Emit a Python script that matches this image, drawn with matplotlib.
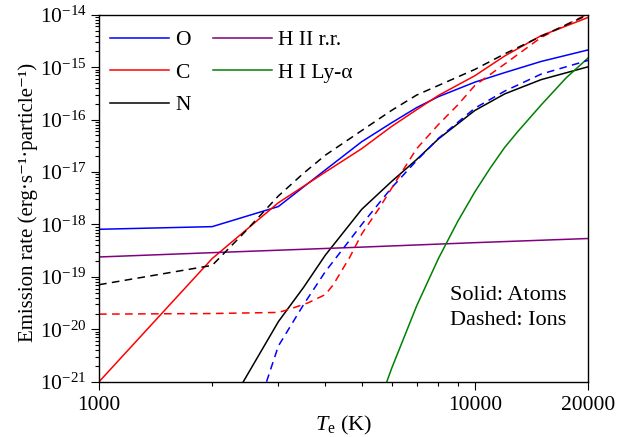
"""
Emission rate vs electron temperature for O, C, N atoms/ions and hydrogen.
"""

import matplotlib
matplotlib.use("Agg")  # headless backend
import matplotlib.pyplot as plt
from matplotlib.ticker import FixedLocator, NullFormatter, LogFormatterSciNotation

plt.rcParams["font.family"] = ["Liberation Serif", "DejaVu Serif"]
plt.rcParams["mathtext.fontset"] = "custom"
plt.rcParams["mathtext.rm"] = "Liberation Serif"
plt.rcParams["mathtext.it"] = "Liberation Serif:italic"
plt.rcParams["mathtext.bf"] = "Liberation Serif:bold"

# --- data (T in K, rate in erg s^-1 particle^-1) ---
T_o = [1000, 2000, 3000, 4000, 5000, 6000, 7000, 8000, 10000, 12000, 15000, 20000]
o_atom = [8.1e-19, 9.1e-19, 2.2e-18, 1.1e-17, 3.8e-17, 8.7e-17, 1.7e-16, 2.75e-16,
          5.2e-16, 7.9e-16, 1.29e-15, 2.14e-15]

T_c = [1000, 2000, 3000, 4000, 5000, 6000, 7000, 8000, 10000, 12000, 15000, 20000]
c_atom = [1.0e-21, 2.24e-19, 2.6e-18, 1.0e-17, 2.8e-17, 7.4e-17, 1.55e-16, 2.9e-16,
          6.9e-16, 1.64e-15, 4.0e-15, 8.9e-15]

T_n = [2420, 3000, 3500, 4000, 5000, 6000, 7000, 8000, 10000, 12000, 15000, 20000]
n_atom = [1.0e-21, 1.4e-20, 6.3e-20, 2.6e-19, 1.95e-18, 6.6e-18, 1.74e-17, 4.3e-17,
          1.5e-16, 3.1e-16, 5.8e-16, 1.02e-15]

T_o_ion = [2790, 3000, 3500, 4000, 5000, 6000, 7000, 8000, 10000, 12000, 15000, 20000]
o_ion = [1.0e-21, 4.8e-21, 2.95e-20, 1.26e-19, 1.0e-18, 5.0e-18, 1.66e-17, 4.4e-17,
         1.66e-16, 3.5e-16, 7.4e-16, 1.35e-15]

T_c_ion = [1000, 2000, 3000, 3200, 3600, 4000, 4200, 4650, 5000, 5600, 6200, 7000,
           8000, 9000, 10000, 12000, 15000, 20000]
c_ion = [1.95e-20, 2.0e-20, 2.1e-20, 2.4e-20, 3.2e-20, 4.6e-20, 7.1e-20, 2.4e-19,
         6.6e-19, 2.2e-18, 7.1e-18, 2.8e-17, 8.1e-17, 1.9e-16, 4.5e-16, 1.15e-15,
         3.7e-15, 1.05e-14]

T_n_ion = [1000, 2000, 2400, 3000, 3500, 4000, 5000, 6000, 7000, 8000, 10000, 12000,
           15000, 20000]
n_ion = [7.1e-20, 1.66e-19, 6.3e-19, 3.5e-18, 9.5e-18, 2.1e-17, 6.2e-17, 1.5e-16,
         2.95e-16, 4.5e-16, 9.1e-16, 1.8e-15, 3.9e-15, 1.0e-14]

T_hii = [1000, 2000, 5000, 10000, 20000]
hii_rr = [2.4e-19, 2.9e-19, 3.7e-19, 4.5e-19, 5.4e-19]

T_lya = [5830, 6000, 7000, 8000, 9000, 10000, 11000, 12000, 13000, 15000, 17500, 20000]
hi_lya = [1.0e-21, 1.77e-21, 2.8e-20, 2.25e-19, 1.14e-18, 4.2e-18, 1.21e-17, 2.95e-17,
          5.9e-17, 1.9e-16, 6.3e-16, 1.5e-15]

x_ticks = [1000, 10000, 20000]
x_minor = [2000, 3000, 4000, 5000, 6000, 7000, 8000, 9000]
y_ticks = [1e-21, 1e-20, 1e-19, 1e-18, 1e-17, 1e-16, 1e-15, 1e-14]
y_minor = [m * d for d in y_ticks[:-1] for m in range(2, 10)]

LW = 1.1
DASH = (5, 3.5)

fig = plt.figure(figsize=(6.35, 4.37), dpi=100)
ax = fig.add_axes([0.156, 0.1265, 0.770, 0.8395])

# solid: atoms
ax.plot(T_o, o_atom, color="#0000ff", lw=LW, label="O")
ax.plot(T_c, c_atom, color="#ff0000", lw=LW, label="C")
ax.plot(T_n, n_atom, color="black", lw=LW, label="N")
ax.plot(T_hii, hii_rr, color="#800080", lw=LW, label="H II r.r.")
ax.plot(T_lya, hi_lya, color="#008000", lw=LW, label="H I Ly-α")

# dashed: ions
ax.plot(T_o_ion, o_ion, color="#0000ff", lw=LW, dashes=DASH)
ax.plot(T_c_ion, c_ion, color="#ff0000", lw=LW, dashes=DASH)
ax.plot(T_n_ion, n_ion, color="black", lw=LW, dashes=DASH)

ax.set_xscale("log")
ax.set_yscale("log")
ax.set_xlim(1000, 20000)
ax.set_ylim(1e-21, 1e-14)

ax.xaxis.set_major_locator(FixedLocator(x_ticks))
ax.set_xticklabels([str(t) for t in x_ticks])
ax.xaxis.set_minor_locator(FixedLocator(x_minor))
ax.xaxis.set_minor_formatter(NullFormatter())

ax.yaxis.set_major_locator(FixedLocator(y_ticks))
ax.yaxis.set_major_formatter(LogFormatterSciNotation())
ax.yaxis.set_minor_locator(FixedLocator(y_minor))
ax.yaxis.set_minor_formatter(NullFormatter())

ax.tick_params(which="both", direction="out", top=False, right=False,
               labelsize=15.5, width=0.8)
ax.tick_params(which="major", length=5.5)
ax.tick_params(which="minor", length=3)
ax.tick_params(axis="x", which="major", pad=5)
for sp in ax.spines.values():
    sp.set_linewidth(1.0)

ax.set_xlabel(r"$T_\mathrm{e}$ (K)", fontsize=16, labelpad=-1)
ax.set_ylabel("Emission rate (erg·s⁻¹·particle⁻¹)", fontsize=15)
ax.yaxis.set_label_coords(-0.125, 0.49)

ax.legend(loc="upper left", bbox_to_anchor=(0.022, 0.958), ncol=2, frameon=False,
          fontsize=15.5, handlelength=2.75, handletextpad=0.3, labelspacing=0.58,
          columnspacing=1.0, borderpad=0, borderaxespad=0)

ax.text(0.718, 0.262, "Solid: Atoms\nDashed: Ions", transform=ax.transAxes,
        fontsize=16, va="top", ha="left", linespacing=1.45)

fig.savefig("out.png", dpi=100)
